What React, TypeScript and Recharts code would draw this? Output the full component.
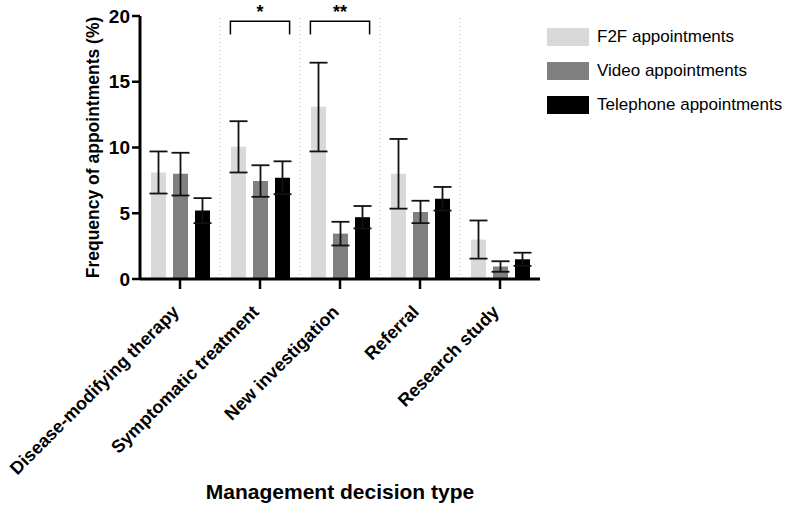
import React from "react"
import {
  BarChart,
  Bar,
  XAxis,
  YAxis,
  ErrorBar,
  ReferenceLine,
  ReferenceArea,
} from "recharts"

const categories = [
  "Disease-modifying therapy",
  "Symptomatic treatment",
  "New investigation",
  "Referral",
  "Research study",
]

const f2f = [8.1, 10.05, 13.1, 8.0, 3.0]
const f2fErr = [
  [1.6, 1.6],
  [1.95, 1.95],
  [3.4, 3.35],
  [2.65, 2.65],
  [1.45, 1.45],
]

const video = [8.0, 7.45, 3.45, 5.1, 0.95]
const videoErr = [
  [1.65, 1.6],
  [1.2, 1.2],
  [0.9, 0.9],
  [0.85, 0.85],
  [0.4, 0.4],
]

const tel = [5.2, 7.7, 4.7, 6.1, 1.5]
const telErr = [
  [0.95, 0.95],
  [1.25, 1.25],
  [0.85, 0.85],
  [0.9, 0.9],
  [0.5, 0.5],
]

const yTicks = [0, 5, 10, 15, 20]

const series = [
  { key: "f2f", name: "F2F appointments", color: "#d9d9d9" },
  { key: "video", name: "Video appointments", color: "#808080" },
  { key: "tel", name: "Telephone appointments", color: "#000000" },
]

// significance brackets: category + label
const brackets = [
  { category: "Symptomatic treatment", label: "*" },
  { category: "New investigation", label: "**" },
]

const data = categories.map((name, i) => ({
  name,
  f2f: f2f[i],
  f2fErr: f2fErr[i],
  video: video[i],
  videoErr: videoErr[i],
  tel: tel[i],
  telErr: telErr[i],
}))

const font = "Arial, 'Liberation Sans', sans-serif"

function XTick(props: any) {
  const { x, y, payload } = props
  return (
    <g transform={`translate(${x},${y})`}>
      <text
        x={0}
        y={0}
        textAnchor="end"
        fontFamily={font}
        fontWeight="bold"
        fontSize={18}
        fill="#000"
        transform="translate(0,22) rotate(-45)"
      >
        {payload.value}
      </text>
    </g>
  )
}

function LegendBox() {
  return (
    <div
      style={{
        position: "absolute",
        left: 547,
        top: 20,
        fontFamily: font,
        fontSize: 17,
        color: "#000",
      }}
    >
      {series.map((s) => (
        <div
          key={s.key}
          style={{ display: "flex", alignItems: "center", height: 34 }}
        >
          <span
            style={{
              display: "inline-block",
              width: 42,
              height: 18,
              background: s.color,
              marginRight: 8,
            }}
          />
          {s.name}
        </div>
      ))}
    </div>
  )
}

function BracketShape(props: any) {
  const { x, width, y, height, label } = props
  const left = x + width * 0.13
  const right = x + width * 0.87
  const top = y
  const bottom = y + height
  return (
    <g>
      <path
        d={`M${left},${bottom} L${left},${top} L${right},${top} L${right},${bottom}`}
        stroke="#000"
        strokeWidth={1.5}
        fill="none"
      />
      <text
        x={x + width / 2}
        y={top - 3}
        textAnchor="middle"
        fontFamily={font}
        fontWeight="bold"
        fontSize={18}
      >
        {label}
      </text>
    </g>
  )
}

export default function App() {
  return (
    <div
      style={{
        position: "absolute",
        left: 0,
        top: 0,
        width: 788,
        height: 506,
        background: "#fff",
      }}
    >
      <BarChart
        width={788}
        height={506}
        data={data}
        margin={{ top: 16, right: 248, bottom: 0, left: 0 }}
        barSize={15}
        barGap={7}
      >
        {categories.slice(1).map((c) => (
          <ReferenceLine
            key={c}
            x={c}
            position="start"
            stroke="#bbbbbb"
            strokeDasharray="1 3"
          />
        ))}
        <XAxis
          dataKey="name"
          height={227}
          interval={0}
          stroke="#000"
          strokeWidth={3}
          tickSize={10}
          tickLine={{ strokeWidth: 2.5 }}
          tick={<XTick />}
          label={{
            value: "Management decision type",
            position: "insideBottom",
            offset: 7,
            fontFamily: font,
            fontWeight: "bold",
            fontSize: 21,
            fill: "#000",
          }}
        />
        <YAxis
          width={140}
          domain={[0, 20]}
          ticks={yTicks}
          interval={0}
          stroke="#000"
          strokeWidth={3}
          tickSize={8}
          tickLine={{ strokeWidth: 2.5 }}
          tick={{ fontFamily: font, fontWeight: "bold", fontSize: 19, fill: "#000" }}
          label={{
            value: "Frequency of appointments (%)",
            angle: -90,
            position: "center",
            dx: 23,
            fontFamily: font,
            fontWeight: "bold",
            fontSize: 17.5,
            fill: "#000",
          }}
        />
        {series.map((s) => (
          <Bar
            key={s.key}
            dataKey={s.key}
            name={s.name}
            fill={s.color}
            isAnimationActive={false}
          >
            <ErrorBar
              dataKey={`${s.key}Err`}
              width={9}
              stroke="#111"
              strokeWidth={1.8}
              isAnimationActive={false}
            />
          </Bar>
        ))}
        {brackets.map((b) => (
          <ReferenceArea
            key={b.category}
            x1={b.category}
            x2={b.category}
            y1={18.6}
            y2={19.6}
            ifOverflow="visible"
            shape={(p: any) => <BracketShape {...p} label={b.label} />}
          />
        ))}
      </BarChart>
      <LegendBox />
    </div>
  )
}
